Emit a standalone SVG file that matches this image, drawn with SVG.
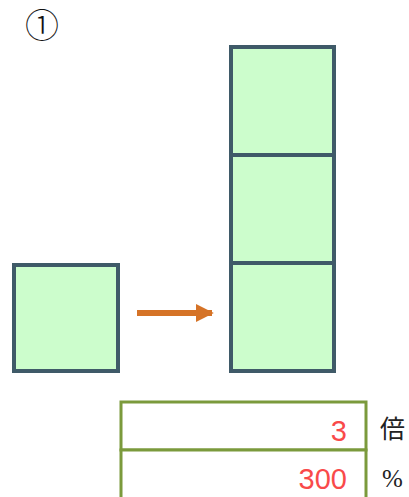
<svg xmlns="http://www.w3.org/2000/svg" width="409" height="497" viewBox="0 0 409 497">
<style>
.sq{fill:#ccfdcc;stroke:#3f5a68;stroke-width:4}
.cell{fill:#fff;stroke:#7b9a3c;stroke-width:3}
.num{font-family:"Liberation Sans",Arial,sans-serif;font-size:29px;fill:#f94a4a;text-anchor:end}
.unit{font-family:"Liberation Serif","Noto Sans CJK JP",serif;font-size:25px;fill:#222}
</style>
<defs>
<marker id="ah" viewBox="0 0 10 10" refX="9" refY="5" markerWidth="3" markerHeight="3" orient="auto" markerUnits="strokeWidth">
<path d="M0,0 L10,5 L0,10 Z" fill="#d57327"/>
</marker>
</defs>
<rect width="409" height="497" fill="#fff"/>
<text x="25" y="38" font-family="'Noto Sans CJK JP',serif" font-size="34" font-weight="300" fill="#111">①</text>
<g id="small-square"><rect class="sq" x="14" y="265" width="104" height="106"/></g>
<g id="stack-top"><rect class="sq" x="231" y="47" width="103" height="108"/></g>
<g id="stack-mid"><rect class="sq" x="231" y="155" width="103" height="108"/></g>
<g id="stack-bottom"><rect class="sq" x="231" y="263" width="103" height="108"/></g>
<g id="connectors">
<line x1="137" y1="313" x2="212" y2="313" stroke="#d57327" stroke-width="6" marker-end="url(#ah)"/>
</g>
<g id="row-times">
<rect class="cell" x="121" y="402" width="245" height="48"/>
<text class="num" x="347" y="441">3</text>
<text class="unit" x="380" y="438">倍</text>
</g>
<g id="row-percent">
<rect class="cell" x="121" y="450" width="245" height="50"/>
<text class="num" x="347" y="489">300</text>
<text class="unit" x="382" y="487">%</text>
</g>
</svg>
